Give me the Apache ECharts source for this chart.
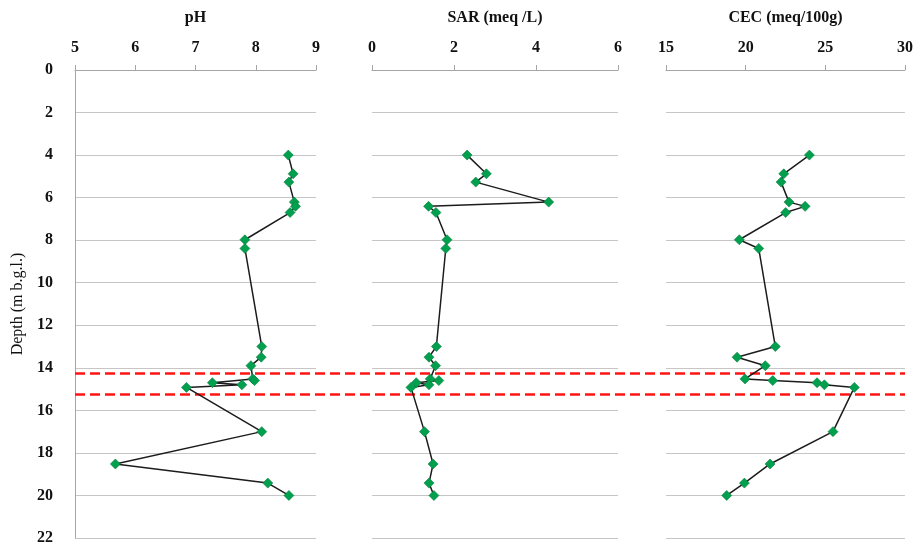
<!DOCTYPE html>
<html>
<head>
<meta charset="utf-8">
<script src="https://cdn.jsdelivr.net/npm/echarts@6/dist/echarts.min.js"></script>
<style>
  html, body { margin: 0; padding: 0; background: #ffffff; }
  #chart { width: 917px; height: 548px; }
</style>
</head>
<body>
<div id="chart"></div>
<script>
// Sample depths (m below ground level), shared by the three profiles
var depths = [4.0, 4.88, 5.27, 6.21, 6.41, 6.7, 7.98, 8.39, 13.0, 13.5, 13.9,
              14.52, 14.6, 14.7, 14.8, 14.92, 17.0, 18.52, 19.42, 20.0];

// Measured profiles
var phValues  = [8.54, 8.62, 8.55, 8.64, 8.66, 8.57, 7.82, 7.82, 8.10, 8.09, 7.92,
                 7.95, 7.98, 7.28, 7.77, 6.85, 8.10, 5.67, 8.20, 8.55];
var sarValues = [2.32, 2.79, 2.53, 4.31, 1.38, 1.56, 1.83, 1.80, 1.57, 1.39, 1.55,
                 1.42, 1.63, 1.08, 1.39, 0.95, 1.28, 1.49, 1.39, 1.51];
var cecValues = [24.0, 22.39, 22.22, 22.72, 23.73, 22.51, 19.60, 20.82, 21.86, 19.46, 21.23,
                 19.96, 21.70, 24.48, 24.94, 26.82, 25.48, 21.53, 19.92, 18.81];

// Panel titles and value-axis ranges [min, max, step]
var panelTitles = ['pH', 'SAR (meq /L)', 'CEC (meq/100g)'];
var panelRanges = [[5, 9, 1], [0, 6, 2], [15, 30, 5]];
var panelValues = [phValues, sarValues, cecValues];

// Depth axis and boundary depths of the marked layer
var depthRange = [0, 22, 2];
var layerBounds = [14.25, 15.25];

var serif = '"Liberation Serif", "Times New Roman", serif';
var panelBoxes = [
  { left: 75,  width: 241 },
  { left: 372, width: 246 },
  { left: 666, width: 239 }
];
var TOP = 70, HEIGHT = 468;

var grids = [], xAxes = [], yAxes = [], series = [];

panelBoxes.forEach(function (b, i) {
  grids.push({ left: b.left, top: TOP, width: b.width, height: HEIGHT,
               containLabel: false, outerBoundsMode: 'none' });
  xAxes.push({
    gridIndex: i, type: 'value', position: 'top',
    min: panelRanges[i][0], max: panelRanges[i][1], interval: panelRanges[i][2],
    name: panelTitles[i], nameLocation: 'middle', nameGap: 44,
    nameTextStyle: { fontFamily: serif, fontWeight: 'bold', fontSize: 16, color: '#111' },
    axisLine: { show: true, lineStyle: { color: '#a6a6a6', width: 1 } },
    axisTick: { show: true, inside: false, length: 5, lineStyle: { color: '#a6a6a6' } },
    axisLabel: { fontFamily: serif, fontWeight: 'bold', fontSize: 16, color: '#111', margin: 14 },
    splitLine: { show: false }
  });
  yAxes.push({
    gridIndex: i, type: 'value', inverse: true,
    min: depthRange[0], max: depthRange[1], interval: depthRange[2],
    name: i === 0 ? 'Depth (m b.g.l.)' : '',
    nameLocation: 'middle', nameRotate: 90, nameGap: 49,
    nameTextStyle: { fontFamily: serif, fontSize: 16, color: '#111' },
    axisLine: { show: i === 0, onZero: false, lineStyle: { color: '#a6a6a6', width: 1 } },
    axisTick: { show: false },
    axisLabel: { show: i === 0, fontFamily: serif, fontWeight: 'bold', fontSize: 16,
                 color: '#111', margin: 22 },
    splitLine: { show: true, lineStyle: { color: '#c6c6c6', width: 1 } }
  });
  series.push({
    type: 'line', xAxisIndex: i, yAxisIndex: i, z: 5,
    data: panelValues[i].map(function (v, k) { return [v, depths[k]]; }),
    symbol: 'diamond', symbolSize: 10,
    itemStyle: { color: '#00a04e', borderColor: '#0b7a3e', borderWidth: 0.6 },
    lineStyle: { color: '#1c1c1c', width: 1.5 },
    animation: false
  });
});

// Overlay spanning all panels, carrying the layer boundary lines
grids.push({ left: panelBoxes[0].left, top: TOP,
             width: panelBoxes[2].left + panelBoxes[2].width - panelBoxes[0].left,
             height: HEIGHT, containLabel: false, outerBoundsMode: 'none' });
xAxes.push({ gridIndex: 3, type: 'value', min: 0, max: 1, show: false });
yAxes.push({ gridIndex: 3, type: 'value', inverse: true,
             min: depthRange[0], max: depthRange[1], show: false });
series.push({
  type: 'scatter', xAxisIndex: 3, yAxisIndex: 3, data: [], z: 3, silent: true,
  markLine: {
    silent: true, symbol: ['none', 'none'], animation: false,
    label: { show: false },
    lineStyle: { color: '#ff1414', width: 2.5, type: [10, 5] },
    data: layerBounds.map(function (d) { return { yAxis: d }; })
  }
});

var chart = echarts.init(document.getElementById('chart'), null, { renderer: 'canvas' });
chart.setOption({
  backgroundColor: '#ffffff',
  animation: false,
  grid: grids,
  xAxis: xAxes,
  yAxis: yAxes,
  series: series
});
</script>
</body>
</html>
